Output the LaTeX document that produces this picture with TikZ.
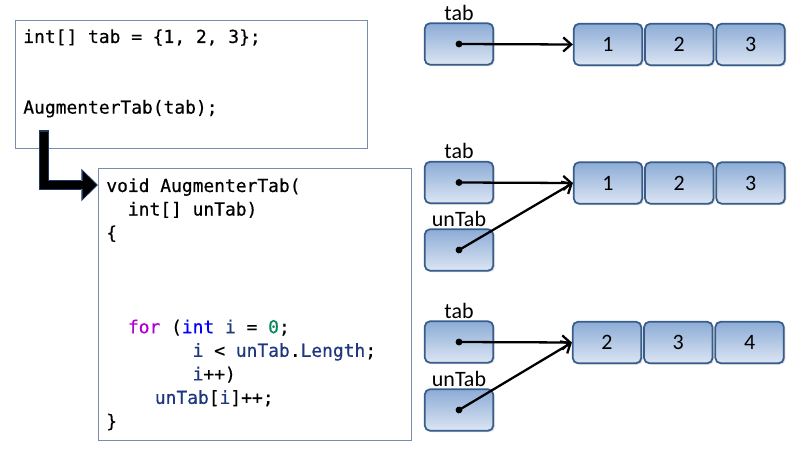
\documentclass[tikz,border=0pt]{standalone}
\usepackage{fontspec}
\setmainfont{Carlito}
\newfontfamily\codefont{DejaVu Sans Mono}[FakeBold=0.5]
\usepackage{tikz}
\usetikzlibrary{arrows.meta}
\usetikzlibrary{positioning}
\usetikzlibrary{shadows}
\definecolor{boxline}{RGB}{56,93,138}
\definecolor{boxtop}{RGB}{140,172,214}
\definecolor{boxbot}{RGB}{220,229,243}
\definecolor{codeline}{RGB}{120,140,172}
\definecolor{calledge}{RGB}{31,56,100}
\definecolor{kwfor}{RGB}{175,0,210}
\definecolor{kwtype}{RGB}{0,0,255}
\definecolor{localvar}{RGB}{31,55,127}
\definecolor{numlit}{RGB}{9,134,88}
\newcommand{\kwfor}[1]{\textcolor{kwfor}{#1}}
\newcommand{\kwtype}[1]{\textcolor{kwtype}{#1}}
\newcommand{\lv}[1]{\textcolor{localvar}{#1}}
\newcommand{\num}[1]{\textcolor{numlit}{#1}}

\begin{document}
\begin{tikzpicture}[x=0.02cm, y=-0.02cm,
	var/.style={draw=boxline, line width=1pt, rounded corners=3pt, top color=boxtop, bottom color=boxbot, minimum width=1.37cm, minimum height=0.83cm, drop shadow={opacity=0.3, shadow xshift=0.8pt, shadow yshift=-0.8pt}},
	cell/.style={var, font=\fontsize{12.5}{14}\selectfont},
	code/.style={font=\codefont\fontsize{10.2}{13.4}\selectfont, align=left, inner sep=0pt, anchor=north west},
	codebox/.style={draw=codeline, line width=0.7pt, anchor=north west, inner sep=0pt},
	ptr/.style={line width=1.3pt, shorten <=-1.9pt, {Circle[length=3.8pt]}-{Straight Barb[length=4.5pt,width=8pt]}},
	every label/.style={font=\fontsize{12.5}{14}\selectfont, inner sep=1pt}]
	
	\useasboundingbox (0,0) rectangle (795,453);
	
	% code
	\node[codebox, minimum width=7.04cm, minimum height=2.56cm] (call) at (15,20) {};
	\node[codebox, minimum width=6.26cm, minimum height=5.44cm] (body) at (98,168) {};
	\node[code] (calltext) at (23,29) {int[] tab = \{1, 2, 3\};\\ \mbox{}\\ \mbox{}\\ AugmenterTab(tab);};
	\node[code] (bodytext) at (106,178) {void AugmenterTab(\\
		\phantom{xx}int[] unTab)\\
		\{\\ \mbox{}\\ \mbox{}\\ \mbox{}\\
		\phantom{xx}\kwfor{for} (\kwtype{int} \lv{i} = \num{0};\\
		\phantom{xxxxxxxx}\lv{i} < \lv{unTab}.\lv{Length};\\
		\phantom{xxxxxxxx}\lv{i}++)\\
		\phantom{xxxx}\hspace{0.3em}\lv{unTab}[\lv{i}]++;\\
		\}};
	
	% call arrow
	\coordinate (callstart) at (44,130);
	\coordinate (callend) at (98,185);
	\draw[line width=6.2pt, draw=calledge, -{Triangle[length=9.5pt,width=18.5pt,line width=0pt]}] (callstart) |- (callend);
	\draw[line width=4.4pt, shorten <=0.9pt, shorten >=1pt, -{Triangle[length=7.4pt,width=15.2pt,line width=0pt]}] (callstart) |- (callend);
	
	% before the call
	\node[var, label=above:tab] (tabA) at (459,44) {};
	\node[cell] (a1) at (608,44.5) {1};
	\node[cell, right=0.6pt of a1] (a2) {2};
	\node[cell, right=0.6pt of a2] (a3) {3};
	\draw[ptr] (tabA.center) -- (a1.west);
	
	% in the call
	\node[var, label=above:tab] (tabB) at (459,182.5) {};
	\node[var, label=above:unTab] (untabB) at (459,250) {};
	\node[cell] (b1) at (608,183) {1};
	\node[cell, right=0.6pt of b1] (b2) {2};
	\node[cell, right=0.6pt of b2] (b3) {3};
	\draw[ptr] (tabB.center) -- (b1.west);
	\draw[ptr] (untabB.center) -- (b1.west);
	
	% after the loop
	\node[var, label=above:tab] (tabC) at (459,342) {};
	\node[var, label=above:unTab] (untabC) at (459,410) {};
	\node[cell] (c1) at (607,342.5) {2};
	\node[cell, right=0.6pt of c1] (c2) {3};
	\node[cell, right=0.6pt of c2] (c3) {4};
	\draw[ptr] (tabC.center) -- (c1.west);
	\draw[ptr] (untabC.center) -- (c1.west);
\end{tikzpicture}
\end{document}
